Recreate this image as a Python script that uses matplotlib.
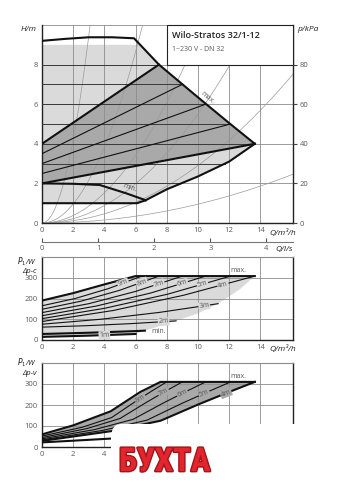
import numpy as np
import matplotlib
matplotlib.use('Agg')
import matplotlib.pyplot as plt
import matplotlib.patheffects as pe
from matplotlib.patches import Rectangle, FancyBboxPatch

plt.rcParams['font.family'] = ['Open Sans', 'DejaVu Sans']

# ---- H/Q chart (m vs m3/h)
max_q = [0, 1.5, 3, 4.5, 5.9, 7.5, 10, 12, 13.65]
max_h = [9.2, 9.3, 9.38, 9.38, 9.33, 8.0, 6.35, 5.05, 4.0]
low_q = [13.65, 12, 10, 8, 6.65]
low_h = [4.0, 3.1, 2.35, 1.7, 1.15]
min_q = [0, 2, 3.7, 5.4, 6.65]
min_h = [2.0, 1.98, 1.92, 1.5, 1.15]
base_q = [0, 6.1, 6.65]
base_h = [1.0, 1.0, 1.15]
vp_start = [2.0, 2.5, 3.0, 3.5, 4.0]   # dp-v lines at Q=0
vp_end_q = [13.65, 12.1, 10.5, 9.0, 7.5]
vp_end_h = [4.0, 5.0, 6.0, 7.0, 8.0]
pc_heights = [2, 3, 4, 5, 6, 7, 8]
pipe_k = [1.05, 0.24, 0.095, 0.055, 0.029, 0.0095]

# ---- P1 chart, dp-c
pcmax_q = [0, 2, 4, 6, 13.65]
pcmax_p = [190, 226, 268, 308, 308]
pc_names = ['9m', '8m', '7m', '6m', '5m', '4m', '3m', '2m']
pc_q = [[0, 2.13, 4.27, 6.4], [0, 2.5, 5, 7.5], [0, 3, 6, 9], [0, 3.5, 7, 10.5],
        [0, 4.03, 8.07, 12.1], [0, 4.55, 9.1, 13.65], [0, 3.77, 7.53, 11.3], [0, 2.87, 5.73, 8.6]]
pc_p = [[165, 200, 248, 308], [148, 187, 240, 308], [132, 175, 234, 308], [117, 164, 227, 308],
        [103, 153, 221, 308], [89, 142, 216, 308], [76, 100, 133, 175], [62, 69, 79, 92]]
pc_label_q = [5.2, 6.4, 7.5, 9.0, 10.3, 11.6, 10.4, 7.8]
pcedge_q = [13.65, 12.7, 11.3, 10, 8.6, 6.6]
pcedge_p = [308, 245, 175, 128, 92, 45]
pcmin_q = [0, 3, 6, 6.6]
pcmin_p = [29, 35, 43, 45]
pc1_q = [0, 3, 6]
pc1_p = [15, 21, 29]

# ---- P1 chart, dp-v
pvmax_q = [0, 2, 4.4, 6.3, 7.6, 13.65]
pvmax_p = [60, 103, 170, 262, 310, 310]
pv_names = ['8m', '7m', '6m', '5m']
pv_q = [[0, 2.58, 4.46, 5.92, 7.03, 8.0], [0, 2.9, 5.01, 6.66, 7.91, 9.0],
        [0, 3.38, 5.85, 7.77, 9.23, 10.5], [0, 3.9, 6.74, 8.95, 10.64, 12.1]]
pv_p = [[52, 94, 140, 213, 266, 310], [45, 88, 136, 211, 265, 310],
        [39, 83, 132, 209, 264, 310], [34, 79, 128, 207, 263, 310]]
pv_label_q = [6.3, 7.8, 9.0, 10.4]
pv4_q = [0, 4.4, 7.6, 10.1, 12, 13.65]
pv4_p = [29, 75, 125, 205, 262, 310]
pvmin_q = [0, 2, 4.4, 6.6]
pvmin_p = [22, 30, 40, 45]

LIGHT = '#dadada'
DARK = '#a9a9a9'
GRID = '#8c8c8c'
TXT = '#5a5a5a'

fig = plt.figure(figsize=(3.37, 4.84), dpi=100)
W, H = 337, 484


def axes_px(left, top, right, bottom):
    return fig.add_axes([left / W, (H - bottom) / H, (right - left) / W, (bottom - top) / H])


def on_line(ax, qs, ys, q, text, bg, size=5):
    y = np.interp(q, qs, ys)
    a = ax.transData.transform((q - 0.3, np.interp(q - 0.3, qs, ys)))
    b = ax.transData.transform((q + 0.3, np.interp(q + 0.3, qs, ys)))
    ang = np.degrees(np.arctan2(b[1] - a[1], b[0] - a[0]))
    ax.text(q, y, text, rotation=ang, rotation_mode='anchor', ha='center', va='center',
            fontsize=size, color=TXT, zorder=6,
            bbox=dict(fc=bg, ec='none', pad=0.4))


def style(ax, ymax, ystep):
    ax.set_xlim(0, 16.1)
    ax.set_ylim(0, ymax)
    for q in range(2, 16, 2):
        ax.axvline(q, color=GRID, lw=0.6, zorder=2)
    for v in np.arange(ystep, ymax + 0.01, ystep):
        ax.axhline(v, color=GRID, lw=0.6, zorder=2)
    for s in ['left', 'bottom', 'right']:
        ax.spines[s].set_color('#222')
        ax.spines[s].set_linewidth(1.0)
    ax.spines['top'].set_visible(False)
    ax.set_xticks(range(0, 15, 2))
    ax.tick_params(length=0, labelsize=5.5, labelcolor=TXT, pad=3)


# ================= top chart
ax = axes_px(42, 25, 293, 223)
style(ax, 10, 2)
ax.set_yticks([0, 2, 4, 6, 8])

mq, mh = np.array(max_q), np.array(max_h)
q9 = np.interp(-9.0, -mh[4:], mq[4:])
top_q = [0, q9] + [q for q in max_q if q > q9]
top_h = [9.0, 9.0] + [h for q, h in zip(max_q, max_h) if q > q9]
poly_q = top_q + low_q[1:] + base_q[::-1]
poly_h = top_h + low_h[1:] + base_h[::-1]
ax.fill(poly_q, poly_h, color=LIGHT, lw=0, zorder=1)

q8 = vp_end_q[-1]
dq = [0, vp_end_q[0]] + [q for q in max_q[::-1] if q8 < q < vp_end_q[0]] + [q8, 0]
dh = [vp_start[0], vp_end_h[0]] + [h for q, h in zip(max_q[::-1], max_h[::-1]) if q8 < q < vp_end_q[0]] + [vp_end_h[-1], vp_start[-1]]
ax.fill(dq, dh, color=DARK, lw=0, zorder=1.2)

# dp-c lines
for hc in pc_heights:
    if hc >= 4:
        qe = np.interp(-hc, -mh[4:], mq[4:])
    else:
        qe = np.interp(hc, low_h[::-1], low_q[::-1])
    ax.plot([0, qe], [hc, hc], color='#3a3a3a', lw=0.7, zorder=3)

# pipe curves
qq = np.linspace(0, 16.1, 200)
for k in pipe_k:
    ax.plot(qq, k * qq ** 2, color='#9a9a9a', lw=0.5, zorder=2.5)

# dp-v lines
for i in range(len(vp_start)):
    lw = 1.5 if i in (0, len(vp_start) - 1) else 0.8
    ax.plot([0, vp_end_q[i]], [vp_start[i], vp_end_h[i]], color='#111', lw=lw, zorder=4)

ax.plot(max_q, max_h, color='#111', lw=1.5, zorder=4)
ax.plot(low_q, low_h, color='#111', lw=1.5, zorder=4)
ax.plot(min_q, min_h, color='#111', lw=1.5, zorder=4)
ax.plot(base_q, base_h, color='#111', lw=1.5, zorder=4)
on_line(ax, max_q, np.array(max_h) + 0.35, 10.6, 'max.', 'none')
on_line(ax, min_q, np.array(min_h) + 0.3, 5.6, 'min.', 'none')

ax.add_patch(Rectangle((8, 8), 8.1, 2, fc='white', ec='#222', lw=0.8, zorder=7, clip_on=False))
ax.text(8.35, 9.45, 'Wilo-Stratos 32/1-12', fontsize=6.5, fontweight='semibold', color='#222', va='center', zorder=8)
ax.text(8.35, 8.75, '1~230 V - DN 32', fontsize=5, color=TXT, va='center', zorder=8)

ax.text(-0.02, 0.975, 'H/m', transform=ax.transAxes, ha='right', va='center', fontsize=6, style='italic', color='#222')
ax.text(1.015, 0.975, 'p/kPa', transform=ax.transAxes, ha='left', va='center', fontsize=6, style='italic', color='#222')
ax.text(0.905, -0.05, 'Q/m³/h', transform=ax.transAxes, ha='left', va='center', fontsize=6, style='italic', color='#222')

axr = ax.twinx()
axr.set_ylim(0, 100)
axr.set_yticks([0, 20, 40, 60, 80])
axr.tick_params(length=3, width=0.8, color='#444', labelsize=5.5, labelcolor=TXT, pad=2)
for s in axr.spines.values():
    s.set_visible(False)

sec = ax.secondary_xaxis(-0.095, functions=(lambda q: q / 3.6, lambda l: l * 3.6))
sec.set_xticks([0, 1, 2, 3, 4])
sec.tick_params(direction='in', length=3, width=0.8, color='#555', labelsize=5.5, labelcolor=TXT, pad=2)
sec.spines['bottom'].set_color('#777')
sec.spines['bottom'].set_linewidth(0.8)
ax.text(0.93, -0.135, 'Q/l/s', transform=ax.transAxes, ha='left', va='center', fontsize=6, style='italic', color='#222')

# ================= dp-c power chart
ax2 = axes_px(42, 257, 293, 340)
style(ax2, 400, 100)
ax2.spines['top'].set_visible(True)
ax2.spines['top'].set_color(GRID)
ax2.set_yticks([0, 100, 200, 300])
fq = pcmax_q + pcedge_q[1:] + pc1_q[::-1]
fp = pcmax_p + pcedge_p[1:] + pc1_p[::-1]
ax2.fill(fq, fp, color=LIGHT, lw=0, zorder=1)
for i, name in enumerate(pc_names):
    ax2.plot(pc_q[i], pc_p[i], color='#111', lw=0.8, zorder=4)
    on_line(ax2, pc_q[i], pc_p[i], pc_label_q[i], name, LIGHT)
ax2.plot(pcmax_q, pcmax_p, color='#111', lw=1.5, zorder=4)
ax2.plot(pcmin_q, pcmin_p, color='#111', lw=1.5, zorder=4)
ax2.plot(pc1_q, pc1_p, color='#111', lw=1.5, zorder=4)
on_line(ax2, pc1_q, pc1_p, 4.0, '1m', LIGHT)
ax2.text(7.0, 42, 'min.', fontsize=5, color=TXT, va='center', zorder=6)
ax2.text(12.1, 335, 'max.', fontsize=5, color=TXT, va='center', zorder=6)
ax2.text(-0.02, 0.94, '$P_1$/W', transform=ax2.transAxes, ha='right', va='center', fontsize=5.5, style='italic', color='#222')
ax2.text(-0.02, 0.83, 'Δp-c', transform=ax2.transAxes, ha='right', va='center', fontsize=5.5, style='italic', color='#222')
ax2.text(0.905, -0.11, 'Q/m³/h', transform=ax2.transAxes, ha='left', va='center', fontsize=6, style='italic', color='#222')

# ================= dp-v power chart
ax3 = axes_px(42, 363, 293, 447)
style(ax3, 400, 100)
ax3.spines['top'].set_visible(True)
ax3.spines['top'].set_color(GRID)
ax3.set_yticks([0, 100, 200, 300])
# right part of the axis is hidden under the watermark
ax3.set_xticklabels(['0', '2', '4', '', '', '', '', ''])
fq = pvmax_q + pv4_q[::-1]
fp = pvmax_p + pv4_p[::-1]
ax3.fill(fq, fp, color=DARK, lw=0, zorder=1)
for i, name in enumerate(pv_names):
    ax3.plot(pv_q[i], pv_p[i], color='#111', lw=0.8, zorder=4)
    on_line(ax3, pv_q[i], pv_p[i], pv_label_q[i], name, DARK)
ax3.plot(pvmax_q, pvmax_p, color='#111', lw=1.5, zorder=4)
ax3.plot(pv4_q, pv4_p, color='#111', lw=1.5, zorder=4)
on_line(ax3, pv4_q, pv4_p, 11.8, '4m', DARK)
ax3.plot(pvmin_q, pvmin_p, color='#111', lw=1.5, zorder=4)
ax3.text(12.1, 335, 'max.', fontsize=5, color=TXT, va='center', zorder=6)
ax3.text(-0.02, 1.0, '$P_1$/W', transform=ax3.transAxes, ha='right', va='center', fontsize=5.5, style='italic', color='#222')
ax3.text(-0.02, 0.88, 'Δp-v', transform=ax3.transAxes, ha='right', va='center', fontsize=5.5, style='italic', color='#222')

# watermark patch
fig.patches.append(FancyBboxPatch((111 / W, -0.05), 0.7, (484 - 424) / H + 0.05,
                                  boxstyle='round,pad=0,rounding_size=0.03',
                                  transform=fig.transFigure, fc='white', ec='none', zorder=20))
fig.text(119 / W, (484 - 471) / H, 'БУХТА', fontsize=23.5, fontweight='bold', color='#e3262e',
         family=['Roboto Condensed', 'DejaVu Sans Condensed', 'Liberation Sans Narrow', 'DejaVu Sans'],
         fontstretch='condensed', zorder=21,
         path_effects=[pe.withStroke(linewidth=2.0, foreground='#a0141a')])

fig.savefig('out.png', dpi=100)
